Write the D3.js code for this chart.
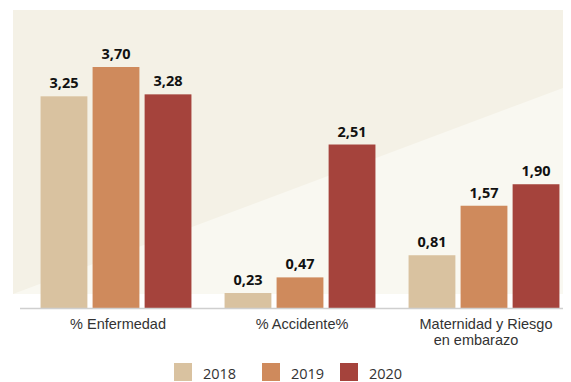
<!DOCTYPE html>
<html>
<head>
<meta charset="utf-8">
<script src="https://cdn.jsdelivr.net/npm/d3@7"></script>
<style>
  html, body { margin: 0; padding: 0; background: #ffffff; }
  svg { display: block; font-family: "Open Sans", "Noto Sans", sans-serif; }
</style>
</head>
<body>
<svg id="chart" width="571" height="382"></svg>
<script>
// Categories and yearly series
const categories = ["% Enfermedad", "% Accidente%", "Maternidad y Riesgo\nen embarazo"];
const years = ["2018", "2019", "2020"];
const values2018 = [3.25, 0.23, 0.81];
const values2019 = [3.70, 0.47, 1.57];
const values2020 = [3.28, 2.51, 1.90];
const seriesValues = [values2018, values2019, values2020];
const colors = ["#d9c2a0", "#cf8a5c", "#a5433c"];

const svg = d3.select("#chart");

// Layout
const panel = { x0: 13, x1: 563, y0: 10, y1: 294 };
const baseY = 308;
const topY = 67;

// Panel background with a lighter diagonal wedge
svg.append("rect")
  .attr("x", panel.x0).attr("y", panel.y0)
  .attr("width", panel.x1 - panel.x0).attr("height", panel.y1 - panel.y0)
  .attr("fill", "#f4f1e6");
svg.append("polygon")
  .attr("points", [[panel.x0, panel.y1], [panel.x1, 88], [panel.x1, panel.y1]].map(p => p.join(",")).join(" "))
  .attr("fill", "#f9f8f1");

// Scales
const x0 = d3.scaleBand().domain(categories).range([24, 576])
  .paddingInner(0.18).paddingOuter(0.09);
const x1 = d3.scaleBand().domain(years).range([0, x0.bandwidth()]).paddingInner(0.1);
const y = d3.scaleLinear().domain([0, d3.max(seriesValues.flat())]).range([baseY, topY]);

const data = categories.map((c, i) => ({
  category: c,
  items: years.map((yr, j) => ({ year: yr, value: seriesValues[j][i], color: colors[j] }))
}));

const groups = svg.append("g").selectAll("g").data(data).join("g")
  .attr("transform", d => `translate(${x0(d.category)},0)`);

groups.selectAll("rect").data(d => d.items).join("rect")
  .attr("x", d => x1(d.year))
  .attr("y", d => y(d.value))
  .attr("width", x1.bandwidth())
  .attr("height", d => baseY - y(d.value))
  .attr("fill", d => d.color);

const fmt = v => d3.format(".2f")(v).replace(".", ",");
groups.selectAll("text.val").data(d => d.items).join("text")
  .attr("class", "val")
  .attr("x", d => x1(d.year) + x1.bandwidth() / 2)
  .attr("y", d => y(d.value) - 8)
  .attr("text-anchor", "middle")
  .attr("font-size", 14.5)
  .attr("font-weight", 700)
  .attr("fill", "#111")
  .text(d => fmt(d.value));

// Baseline
svg.append("line")
  .attr("x1", 20).attr("x2", panel.x1)
  .attr("y1", baseY + 0.5).attr("y2", baseY + 0.5)
  .attr("stroke", "#cfcfcf").attr("stroke-width", 1.5);

// Category axis
const axis = svg.append("g")
  .attr("transform", `translate(0,${baseY})`)
  .call(d3.axisBottom(x0).tickSize(0).tickPadding(0).tickFormat(""));
axis.select(".domain").remove();
axis.selectAll(".tick").each(function(d) {
  const lines = d.split("\n");
  const t = d3.select(this).append("text")
    .attr("text-anchor", "middle")
    .attr("fill", "#333")
    .attr("font-size", 14.5);
  lines.forEach((ln, k) => {
    t.append("tspan").attr("x", k ? -8 : 2).attr("y", 21 + k * 16).text(ln);
  });
});

// Legend
const legend = svg.append("g").attr("transform", "translate(174,363)");
const legendX = [0, 88, 166];
years.forEach((yr, j) => {
  const g = legend.append("g").attr("transform", `translate(${legendX[j]},0)`);
  g.append("rect").attr("width", 18).attr("height", 18).attr("fill", colors[j]);
  g.append("text").attr("x", 29).attr("y", 16)
    .attr("font-size", 14.5).attr("fill", "#333").text(yr);
});
</script>
</body>
</html>
